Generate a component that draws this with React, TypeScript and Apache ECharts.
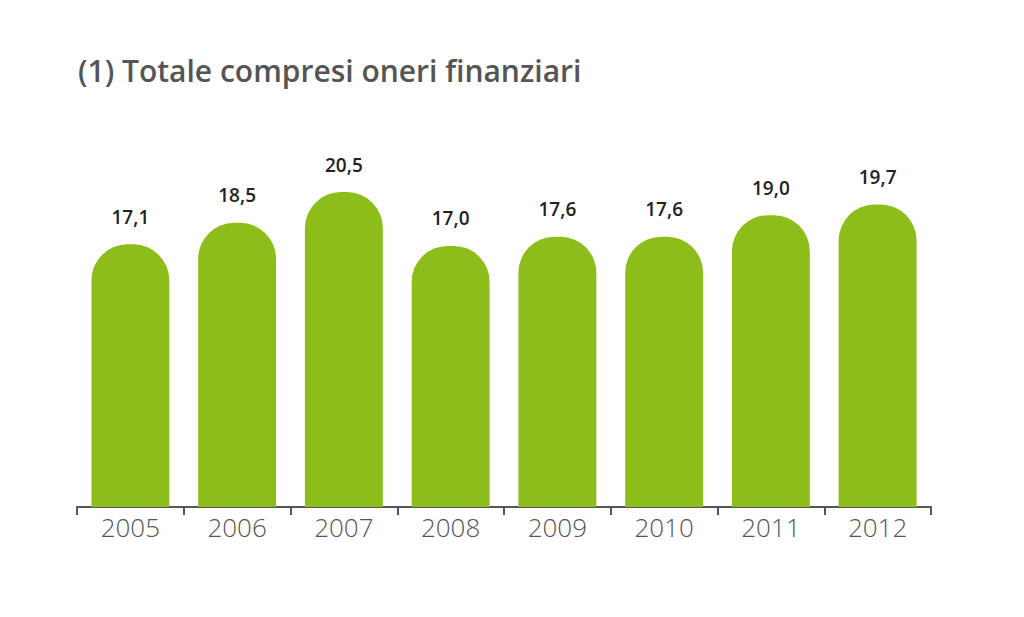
import React, { useEffect, useRef } from "react";
import * as echarts from "echarts";

const title = "(1) Totale compresi oneri finanziari";
const categories = ["2005", "2006", "2007", "2008", "2009", "2010", "2011", "2012"];
const values = [17.1, 18.5, 20.5, 17.0, 17.6, 17.6, 19.0, 19.7];

export default function App() {
  const ref = useRef<HTMLDivElement>(null);
  useEffect(() => {
    document.body.style.margin = "0";
    if (!ref.current) return;
    const chart = echarts.init(ref.current, null, { renderer: "svg" });
    chart.setOption({
      animation: false,
      backgroundColor: "#ffffff",
      title: {
        text: title,
        left: 73,
        top: 50,
        textStyle: {
          fontFamily: "Open Sans",
          fontWeight: 600,
          fontSize: 30,
          color: "#555555",
        },
      },
      grid: { left: 77, right: 93, top: 123, bottom: 110 },
      xAxis: {
        type: "category",
        data: categories,
        axisLine: { show: true, lineStyle: { color: "#555555", width: 2 } },
        axisTick: {
          show: true,
          inside: false,
          length: 8,
          lineStyle: { color: "#555555", width: 2 },
        },
        axisLabel: {
          fontFamily: "Open Sans",
          fontWeight: 300,
          fontSize: 26,
          color: "#555555",
          margin: 7,
        },
      },
      yAxis: {
        type: "value",
        min: 0,
        max: 25,
        show: false,
        splitLine: { show: false },
      },
      series: [
        {
          type: "bar",
          data: values,
          barWidth: "73%",
          itemStyle: { color: "#8dbd1a", borderRadius: [36, 36, 0, 0] },
          label: {
            show: true,
            position: "top",
            distance: 18,
            formatter: (p: any) => String(p.value.toFixed(1)).replace(".", ","),
            fontFamily: "Open Sans",
            fontWeight: 600,
            fontSize: 19,
            color: "#222222",
          },
        },
      ],
    });
    return () => chart.dispose();
  }, []);
  return <div ref={ref} style={{ width: 1024, height: 617 }} />;
}
